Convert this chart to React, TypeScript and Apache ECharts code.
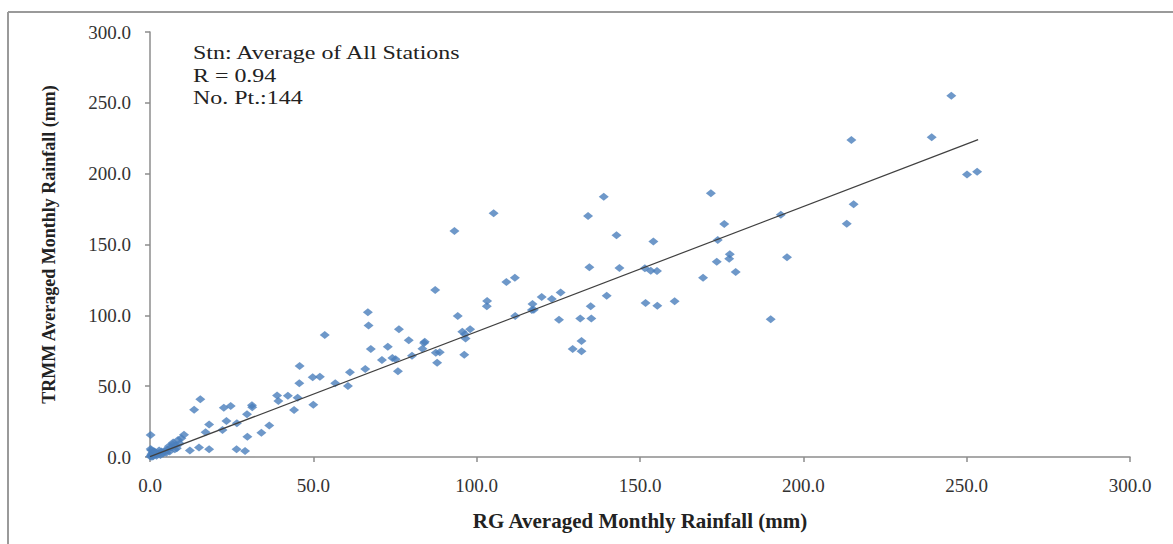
import React, { useEffect, useRef } from "react";
import * as echarts from "echarts";

// RG averaged monthly rainfall (x) vs TRMM averaged monthly rainfall (y), mm
const rgValues: number[] = [
  245.3, 239.3, 214.7, 253.2, 250.1, 215.4, 213.3, 193.1, 195.0, 190.0,
  171.7, 175.8, 173.8, 177.5, 177.3, 173.5, 179.3, 169.3, 160.6, 155.3,
  151.7, 155.2, 153.3, 151.5, 154.1, 142.8, 143.7, 134.5, 138.9, 134.1,
  139.8, 134.9, 135.1, 131.7, 125.2, 132.1, 129.4, 132.1, 125.7, 123.0,
  119.9, 117.1, 116.9, 117.5, 111.8, 111.7, 109.1, 105.2, 103.2, 103.1,
  93.2, 94.2, 87.3, 98.0, 95.6, 96.4, 96.6, 96.2, 88.7, 87.5,
  87.9, 84.1, 83.9, 83.4, 79.2, 80.2, 76.2, 72.8, 75.2, 74.2,
  71.0, 75.9, 67.6, 66.7, 66.9, 65.9, 61.2, 60.6, 56.7, 53.5,
  52.0, 49.8, 50.0, 45.8, 45.7, 45.2, 44.1, 42.2, 38.9, 39.3,
  36.5, 34.1, 29.8, 31.2, 31.3, 29.7, 26.6, 23.4, 22.2, 24.7,
  22.6, 15.4, 13.5, 18.1, 17.0, 29.1, 26.5, 18.1, 15.0, 12.2,
  10.4, 9.6, 8.6, 7.1, 9.1, 7.8, 7.6, 6.0, 4.5, 3.5,
  2.5, 0.2, 0.1, 0.3, 0.5, 0.8, 1.0, 1.2, 1.5, 1.8,
  2.0, 0.4, 0.2, 2.8, 3.2, 4.0, 5.0, 5.3, 6.5, 5.8,
  8.2, 7.0, 1.5, 0.6,
];
const trmmValues: number[] = [
  255.0, 225.7, 223.8, 201.4, 199.5, 178.4, 164.6, 171.0, 141.0, 97.2,
  186.1, 164.5, 153.2, 143.1, 140.0, 137.9, 130.6, 126.6, 109.9, 106.8,
  108.7, 131.3, 131.5, 133.2, 152.2, 156.5, 133.4, 133.9, 183.7, 170.1,
  113.9, 106.4, 97.7, 97.7, 96.9, 81.9, 76.2, 74.6, 116.2, 111.5,
  112.9, 108.0, 103.8, 104.0, 99.5, 126.6, 123.5, 172.0, 110.1, 106.4,
  159.5, 99.5, 117.9, 90.1, 88.5, 86.6, 83.7, 72.2, 73.9, 73.6,
  66.6, 81.4, 80.5, 76.5, 82.4, 71.5, 90.1, 77.9, 69.0, 69.9,
  68.5, 60.5, 76.2, 102.1, 92.9, 62.1, 59.8, 50.1, 52.0, 86.1,
  56.7, 56.3, 36.9, 64.2, 52.0, 41.9, 33.2, 43.3, 43.5, 39.5,
  22.3, 17.2, 14.3, 36.5, 35.1, 30.1, 23.8, 25.4, 19.1, 36.0,
  34.8, 40.7, 33.4, 23.0, 17.4, 4.2, 5.4, 5.4, 6.7, 4.6,
  15.7, 13.3, 12.0, 10.3, 9.6, 8.5, 5.4, 3.8, 4.5, 3.8,
  2.6, 15.5, 0.3, 1.2, 2.2, 3.1, 0.6, 4.0, 1.8, 2.9,
  0.9, 4.8, 5.6, 4.6, 1.5, 2.5, 3.0, 5.2, 6.8, 7.6,
  6.1, 9.0, 3.6, 0.2,
];
// Regression line end points
const fitX: number[] = [0, 253.5];
const fitY: number[] = [0.3, 224.0];

const axisTicks: number[] = [0, 50, 100, 150, 200, 250, 300];
const annotationLines: string[] = [
  "Stn: Average of All Stations",
  "R = 0.94",
  "No. Pt.:144",
];

const FONT = "'Liberation Serif', 'Times New Roman', serif";

export default function App() {
  const ref = useRef<HTMLDivElement>(null);
  useEffect(() => {
    if (!ref.current) return;
    const chart = echarts.init(ref.current, undefined, { renderer: "svg" });
    const points = rgValues.map((x, i) => [x, trmmValues[i]]);
    const fit = fitX.map((x, i) => [x, fitY[i]]);
    const axisMax = axisTicks[axisTicks.length - 1];
    const interval = axisTicks[1] - axisTicks[0];
    const lineColor = "#8c8c8c";
    const commonAxis = {
      type: "value" as const,
      min: axisTicks[0],
      max: axisMax,
      interval,
      splitLine: { show: false },
      axisLine: { show: true, onZero: false, lineStyle: { color: lineColor, width: 1.5 } },
      axisTick: { show: true, inside: false, length: 5, lineStyle: { color: lineColor, width: 1.5 } },
    };
    chart.setOption({
      animation: false,
      backgroundColor: "#ffffff",
      textStyle: { fontFamily: FONT },
      grid: { left: 150, right: 43, top: 32, bottom: 87, containLabel: false },
      xAxis: {
        ...commonAxis,
        name: "RG Averaged Monthly Rainfall (mm)",
        nameLocation: "middle",
        nameGap: 53,
        nameTextStyle: { fontFamily: FONT, fontWeight: "bold", fontSize: 21, color: "#222" },
        axisLabel: {
          margin: 19,
          fontFamily: FONT,
          fontSize: 19,
          color: "#333",
          formatter: (v: number) => v.toFixed(1),
        },
      },
      yAxis: {
        ...commonAxis,
        name: "TRMM Averaged Monthly Rainfall (mm)",
        nameLocation: "middle",
        nameGap: 92,
        nameTextStyle: { fontFamily: FONT, fontWeight: "bold", fontSize: 18, color: "#222" },
        axisLabel: {
          margin: 19,
          fontFamily: FONT,
          fontSize: 19,
          color: "#333",
          formatter: (v: number) => v.toFixed(1),
        },
      },
      graphic: [
        {
          type: "line",
          shape: { x1: 8, y1: 12, x2: 8, y2: 544 },
          style: { stroke: "#9a9a9a", lineWidth: 2 },
          silent: true,
        },
        {
          type: "line",
          shape: { x1: 8, y1: 12, x2: 1173, y2: 12 },
          style: { stroke: "#9a9a9a", lineWidth: 2 },
          silent: true,
        },
        ...annotationLines.map((t, i) => ({
          type: "text",
          x: 193,
          y: [44, 67, 89][i],
          scaleX: 1.33,
          style: {
            text: t,
            fill: "#222",
            font: `18px ${FONT}`,
          },
          silent: true,
        })),
      ],
      series: [
        {
          type: "scatter",
          data: points,
          symbol: "diamond",
          symbolSize: [10, 8],
          itemStyle: { color: "#4A7EBB" },
          z: 3,
        },
        {
          type: "line",
          data: fit,
          symbol: "none",
          lineStyle: { color: "#404040", width: 1.2 },
          z: 4,
        },
      ],
    });
    return () => chart.dispose();
  }, []);
  return (
    <div
      ref={ref}
      style={{ position: "fixed", left: 0, top: 0, width: 1173, height: 544, background: "#fff" }}
    />
  );
}
